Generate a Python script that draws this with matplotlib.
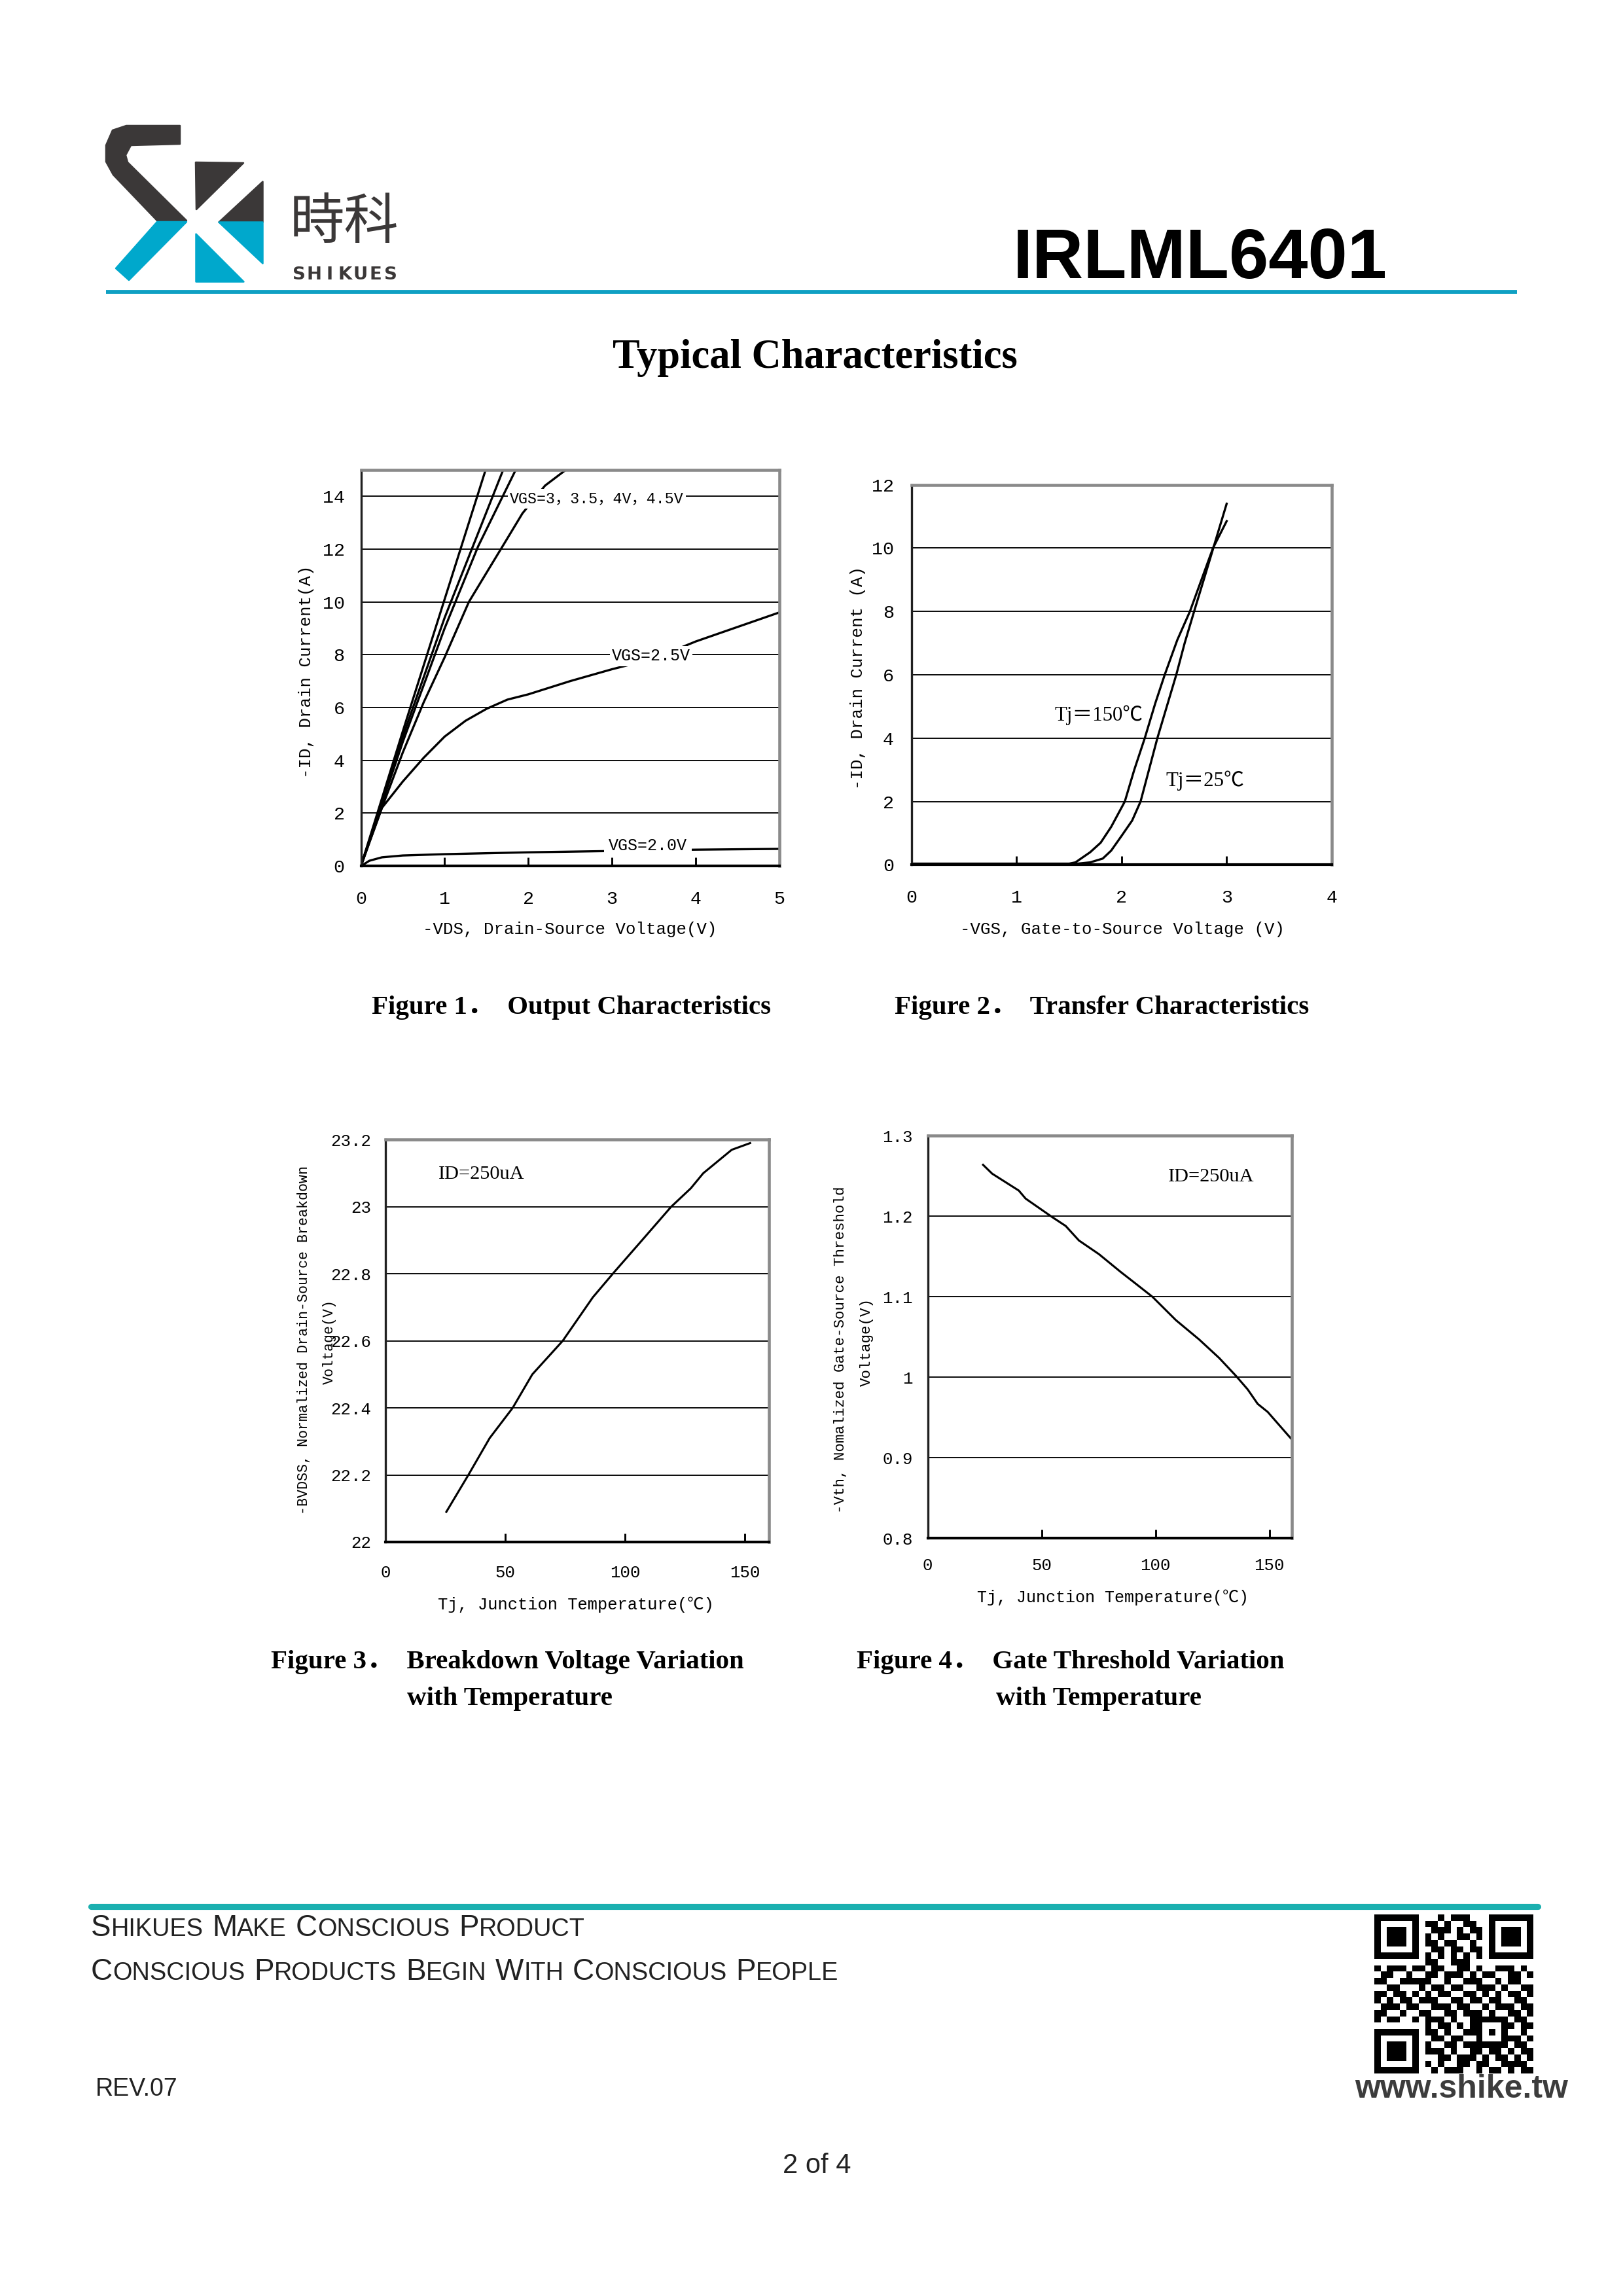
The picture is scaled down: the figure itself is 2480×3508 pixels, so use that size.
import numpy as np
import matplotlib
matplotlib.use("Agg")
import matplotlib.pyplot as plt
from matplotlib.patches import Polygon
from matplotlib.offsetbox import TextArea, HPacker, AnnotationBbox

# ---- Figure 1: output characteristics (-VDS in V, -ID in A)
vds_45 = [0, 0.5, 1.0, 1.49]
id_45 = [0, 5.1, 10.1, 15.0]
vds_40 = [0, 0.5, 1.0, 1.35, 1.70]
id_40 = [0, 4.9, 9.4, 12.2, 15.0]
vds_35 = [0, 0.5, 1.0, 1.4, 1.85]
id_35 = [0, 4.7, 9.0, 12.1, 15.0]
vds_30 = [0, 0.25, 0.5, 0.75, 1.0, 1.29, 1.5, 1.73, 1.93, 2.2, 2.45]
id_30 = [0, 2.2, 4.3, 6.2, 7.9, 10.0, 11.1, 12.3, 13.35, 14.4, 15.0]
vds_25 = [0, 0.1, 0.25, 0.5, 0.75, 1.0, 1.25, 1.5, 1.75, 2.0, 2.5, 3.0, 3.5, 4.0, 4.5, 5.0]
id_25 = [0, 0.9, 2.2, 3.2, 4.1, 4.9, 5.5, 5.95, 6.3, 6.5, 7.0, 7.45, 7.85, 8.5, 9.05, 9.6]
vds_20 = [0, 0.1, 0.25, 0.5, 1.0, 2.0, 3.0, 4.0, 5.0]
id_20 = [0, 0.2, 0.33, 0.40, 0.45, 0.52, 0.57, 0.62, 0.65]

# ---- Figure 2: transfer characteristics (-VGS in V, -ID in A)
vgs_150 = [0, 1.5, 1.56, 1.7, 1.8, 1.9, 2.03, 2.12, 2.22, 2.32, 2.41, 2.53, 2.65, 2.76, 2.87, 3.0]
id_150 = [0.04, 0.04, 0.08, 0.4, 0.7, 1.2, 2.0, 3.0, 4.0, 5.1, 6.0, 7.1, 8.0, 9.0, 10.0, 10.85]
vgs_25 = [0, 1.55, 1.7, 1.82, 1.9, 2.0, 2.1, 2.18, 2.26, 2.34, 2.43, 2.52, 2.6, 2.69, 2.8, 2.9, 3.0]
id_25c = [0.03, 0.03, 0.08, 0.2, 0.45, 0.92, 1.4, 2.0, 3.0, 4.0, 5.0, 6.0, 7.0, 8.0, 9.2, 10.3, 11.4]

# ---- Figure 3: breakdown voltage vs Tj
tj_bv = [25.3, 34.5, 43.4, 53, 61.2, 73.9, 86.5, 95.4, 105.8, 119.2, 127.4, 132.6, 144.5, 152.2]
bvdss = [22.09, 22.20, 22.31, 22.40, 22.50, 22.60, 22.73, 22.805, 22.89, 23.0, 23.055, 23.10, 23.17, 23.19]

# ---- Figure 4: gate threshold vs Tj
tj_vth = [24.3, 28.3, 40, 43, 54.7, 60.6, 66.4, 75.2, 84.7, 90.6, 98.7, 109, 119.2, 128, 135.3,
          140.5, 144.9, 149.3, 159.5]
vth = [1.264, 1.253, 1.232, 1.222, 1.199, 1.188, 1.170, 1.153, 1.131, 1.118, 1.100, 1.071, 1.047,
       1.024, 1.002, 0.985, 0.967, 0.957, 0.924]

# tick labels
f1_xticks = [0, 1, 2, 3, 4, 5]
f1_yticks = [0, 2, 4, 6, 8, 10, 12, 14]
f2_xticks = [0, 1, 2, 3, 4]
f2_yticks = [0, 2, 4, 6, 8, 10, 12]
f3_xticks = [0, 50, 100, 150]
f3_yticks = [22, 22.2, 22.4, 22.6, 22.8, 23, 23.2]
f3_ylabels = ["22", "22.2", "22.4", "22.6", "22.8", "23", "23.2"]
f4_xticks = [0, 50, 100, 150]
f4_yticks = [0.8, 0.9, 1.0, 1.1, 1.2, 1.3]
f4_ylabels = ["0.8", "0.9", "1", "1.1", "1.2", "1.3"]

# decorative QR modules
qr_rows = [
    "1111111" + "0" + "001011100" + "0" + "1111111",
    "1000001" + "0" + "110100110" + "0" + "1000001",
    "1011101" + "0" + "011101011" + "0" + "1011101",
    "1011101" + "0" + "101001101" + "0" + "1011101",
    "1011101" + "0" + "110110010" + "0" + "1011101",
    "1000001" + "0" + "011011011" + "0" + "1000001",
    "1111111" + "0" + "101010101" + "0" + "1111111",
    "00000000" + "110011100" + "00000000",
    "1011101" + "101100110100111010",
    "0110010" + "011011101011001101",
    "1100111" + "110010011100101100",
    "0011000" + "101101100111010011",
    "1101101" + "010110011010101101",
    "1010110" + "111001101101100110",
    "0111011" + "001110110010111011",
    "1100100" + "110011011101001101",
    "1011001" + "011101001" + "11111" + "0110",
    "00000000" + "10110101" + "10001" + "1011",
    "1111111" + "0" + "11010011" + "10101" + "0010",
    "1000001" + "0" + "01101100" + "10001" + "1101",
    "1011101" + "0" + "10011011" + "11111" + "0110",
    "1011101" + "0" + "11101001" + "10110" + "1011",
    "1011101" + "0" + "00110111" + "01011" + "0101",
    "1000001" + "0" + "10100110" + "11001" + "1110",
    "1111111" + "0" + "01011100" + "10110" + "1011",
]

MONO = ["Liberation Mono", "Noto Sans CJK SC"]
SERIF = ["Liberation Serif", "Noto Sans CJK SC"]
DARK = "#3b3838"
BLUE = "#00a8cc"

fig = plt.figure(figsize=(2480 / 300, 3508 / 300), dpi=300)
bg = fig.add_axes([0, 0, 1, 1])
bg.axis("off")

# ---- header: logo
logo_dark = [
    [(275, 192), (193, 192), (172, 199), (162, 222), (162, 247), (173, 267), (240, 337), (285, 337),
     (195, 248), (192, 237), (200, 222), (275, 220)],
    [(299, 248), (372, 249), (300, 320)],
    [(401, 277), (401, 339), (334, 339)],
]
logo_blue = [
    [(240, 339), (285, 339), (197, 428), (177, 410)],
    [(334, 339), (401, 339), (401, 402)],
    [(299, 357), (299, 430), (372, 430)],
]
for pts in logo_dark:
    bg.add_patch(Polygon(pts, closed=True, fc=DARK, ec=DARK, lw=0.6, joinstyle="round"))
for pts in logo_blue:
    bg.add_patch(Polygon(pts, closed=True, fc=BLUE, ec=BLUE, lw=0.6, joinstyle="round"))
bg.text(526, 340, "時科", family=["Noto Sans CJK SC"], fontsize=20, color=DARK,
        ha="center", va="center")
for i, ch in enumerate("SHIKUES"):
    bg.text(457 + i * 23.3, 420, ch, family=["DejaVu Sans"], fontweight="bold", fontsize=6.6,
            color=DARK, ha="center", va="center")

bg.text(1548, 425, "IRLML6401", family=["Liberation Sans"], fontweight="bold", fontsize=26,
        color="black", ha="left", va="baseline")
bg.plot([162, 2318], [446, 446], color="#0fa0c3", lw=1.4, solid_capstyle="butt")
bg.text(1245, 562, "Typical Characteristics", family=SERIF, fontweight="bold", fontsize=15,
        ha="center", va="baseline")


def make_axes(rect, xlim, ylim, xticks, xticklabels, yticks, yticklabels, fs, xpad, ypad):
    ax = fig.add_axes(rect)
    ax.set_xlim(*xlim)
    ax.set_ylim(*ylim)
    ax.set_xticks(xticks)
    ax.set_xticklabels(xticklabels, family=MONO, fontsize=fs)
    ax.set_yticks(yticks)
    ax.set_yticklabels(yticklabels, family=MONO, fontsize=fs)
    ax.tick_params(axis="x", direction="in", length=3.2, width=0.7, pad=xpad)
    ax.tick_params(axis="y", length=0, pad=ypad)
    ax.grid(axis="y", color="black", lw=0.45)
    ax.set_axisbelow(True)
    ax.patch.set_alpha(0)
    for side in ("top", "right"):
        ax.spines[side].set_color("#8a8a8a")
        ax.spines[side].set_linewidth(1.1)
    ax.spines["left"].set_color("#202020")
    ax.spines["left"].set_linewidth(0.8)
    ax.spines["bottom"].set_color("black")
    ax.spines["bottom"].set_linewidth(1.0)
    return ax


LW = 0.8
label_box = dict(facecolor="white", edgecolor="none", pad=0.8)

# ---- Figure 1
ax1 = make_axes([0.2224, 0.6228, 0.2578, 0.1726], (0, 5), (0, 15), f1_xticks,
                [str(v) for v in f1_xticks], f1_yticks, [str(v) for v in f1_yticks], 6.8, 9, 6)
for xs, ys in [(vds_45, id_45), (vds_40, id_40), (vds_35, id_35), (vds_30, id_30),
               (vds_25, id_25), (vds_20, id_20)]:
    ax1.plot(xs, ys, color="black", lw=LW, clip_on=True)
ax1.text(1.78, 13.9, "VGS=3，3.5，4V，4.5V", family=MONO, fontsize=5.6, ha="left", va="center",
         bbox=label_box, zorder=4)
ax1.text(3.0, 7.95, "VGS=2.5V", family=MONO, fontsize=6.0, ha="left", va="center",
         bbox=label_box, zorder=4)
ax1.text(2.96, 0.78, "VGS=2.0V", family=MONO, fontsize=6.0, ha="left", va="center",
         bbox=dict(facecolor="white", edgecolor="none", pad=1.6), zorder=4)

# ---- Figure 2
ax2 = make_axes([0.5617, 0.6233, 0.2588, 0.1656], (0, 4), (0, 12), f2_xticks,
                [str(v) for v in f2_xticks], f2_yticks, [str(v) for v in f2_yticks], 6.8, 9, 6.5)
ax2.plot(vgs_150, id_150, color="black", lw=LW)
ax2.plot(vgs_25, id_25c, color="black", lw=LW)
ax2.text(1.36, 4.73, "Tj＝150℃", family=SERIF, fontsize=7.4, ha="left", va="center",
         bbox=dict(facecolor="white", edgecolor="none", pad=0.6), zorder=4)
ax2.text(2.42, 2.65, "Tj＝25℃", family=SERIF, fontsize=7.4, ha="left", va="center", zorder=4)

# ---- Figure 3
ax3 = make_axes([0.2377, 0.3284, 0.2360, 0.1752], (0, 160), (22, 23.2), f3_xticks,
                [str(v) for v in f3_xticks], f3_yticks, f3_ylabels, 6.2, 8.5, 5.4)
ax3.plot(tj_bv, bvdss, color="black", lw=0.75)
ax3.text(22, 23.097, "ID=250uA", family=SERIF, fontsize=7.3, ha="left", va="center")

# ---- Figure 4
ax4 = make_axes([0.5716, 0.3300, 0.2245, 0.1753], (0, 160), (0.8, 1.3), f4_xticks,
                [str(v) for v in f4_xticks], f4_yticks, f4_ylabels, 6.2, 7, 5.4)
ax4.plot(tj_vth, vth, color="black", lw=0.75)
ax4.text(105.6, 1.2495, "ID=250uA", family=SERIF, fontsize=7.3, ha="left", va="center")

# ---- axis titles and captions (page pixel coordinates)
bg.text(871, 1420, "-VDS, Drain-Source Voltage(V)", family=MONO, fontsize=6.2, ha="center", va="center")
bg.text(468, 1026, "-ID, Drain Current(A)", family=MONO, fontsize=6.2, rotation=90,
        ha="center", va="center")
bg.text(1715, 1420, "-VGS, Gate-to-Source Voltage (V)", family=MONO, fontsize=6.2,
        ha="center", va="center")
bg.text(1311, 1035, "-ID, Drain Current (A)", family=MONO, fontsize=6.2, rotation=90,
        ha="center", va="center")
bg.text(880, 2452, "Tj, Junction Temperature(℃)", family=MONO, fontsize=6.1, ha="center", va="center")
bg.text(464, 2048, "-BVDSS, Normalized Drain-Source Breakdown", family=MONO, fontsize=5.2,
        rotation=90, ha="center", va="center")
bg.text(503, 2050, "Voltage(V)", family=MONO, fontsize=5.2, rotation=90, ha="center", va="center")
bg.text(1700, 2441, "Tj, Junction Temperature(℃)", family=MONO, fontsize=6.0, ha="center", va="center")
bg.text(1284, 2062, "-Vth, Nomalized Gate-Source Threshold", family=MONO, fontsize=5.4,
        rotation=90, ha="center", va="center")
bg.text(1324, 2050, "Voltage(V)", family=MONO, fontsize=5.4, rotation=90, ha="center", va="center")

cap = dict(family=SERIF, fontweight="bold", fontsize=9.8, ha="center", va="center")
bg.text(873, 1540, "Figure 1．  Output Characteristics", **cap)
bg.text(1684, 1540, "Figure 2．  Transfer Characteristics", **cap)
bg.text(775, 2540, "Figure 3．  Breakdown Voltage Variation", **cap)
bg.text(779, 2596, "with Temperature", **cap)
bg.text(1636, 2540, "Figure 4．  Gate Threshold Variation", **cap)
bg.text(1679, 2596, "with Temperature", **cap)

# ---- footer
bg.plot([139, 2350], [2913, 2913], color="#1bb0b0", lw=2.2, solid_capstyle="round")

FOOT = ["Liberation Sans"]


def small_caps(text, x, y, big, small):
    words = []
    for w in text.split():
        parts = [TextArea(w[0], textprops=dict(fontsize=big, family=FOOT, color="#222222")),
                 TextArea(w[1:].upper(), textprops=dict(fontsize=small, family=FOOT, color="#222222"))]
        words.append(HPacker(children=parts, align="baseline", pad=0, sep=0))
    box = HPacker(children=words, align="baseline", pad=0, sep=big * 0.3)
    bg.add_artist(AnnotationBbox(box, (x, y), xycoords="data", box_alignment=(0, 0.5),
                                 frameon=False, pad=0))


small_caps("Shikues Make Conscious Product", 139, 2946, 11, 9.1)
small_caps("Conscious Products Begin With Conscious People", 139, 3013, 11, 9.1)

bg.text(146, 3192, "REV.07", family=["Liberation Sans"], fontsize=9, color="#222222",
        ha="left", va="center")
bg.text(2396, 3192, "www.shike.tw", family=["Liberation Sans"], fontweight="bold", fontsize=12,
        color="#3c3c3c", ha="right", va="center")
bg.text(1248, 3309, "2 of 4", family=["Liberation Sans"], fontsize=10, color="#222222",
        ha="center", va="center")

qr = np.array([[int(c) for c in row] for row in qr_rows])
bg.imshow(qr, cmap="gray_r", interpolation="nearest", extent=(2100, 2343, 3168, 2925),
          aspect="auto", vmin=0, vmax=1)

bg.set_xlim(0, 2480)
bg.set_ylim(3508, 0)

fig.savefig("out.png", dpi=300, facecolor="white")
